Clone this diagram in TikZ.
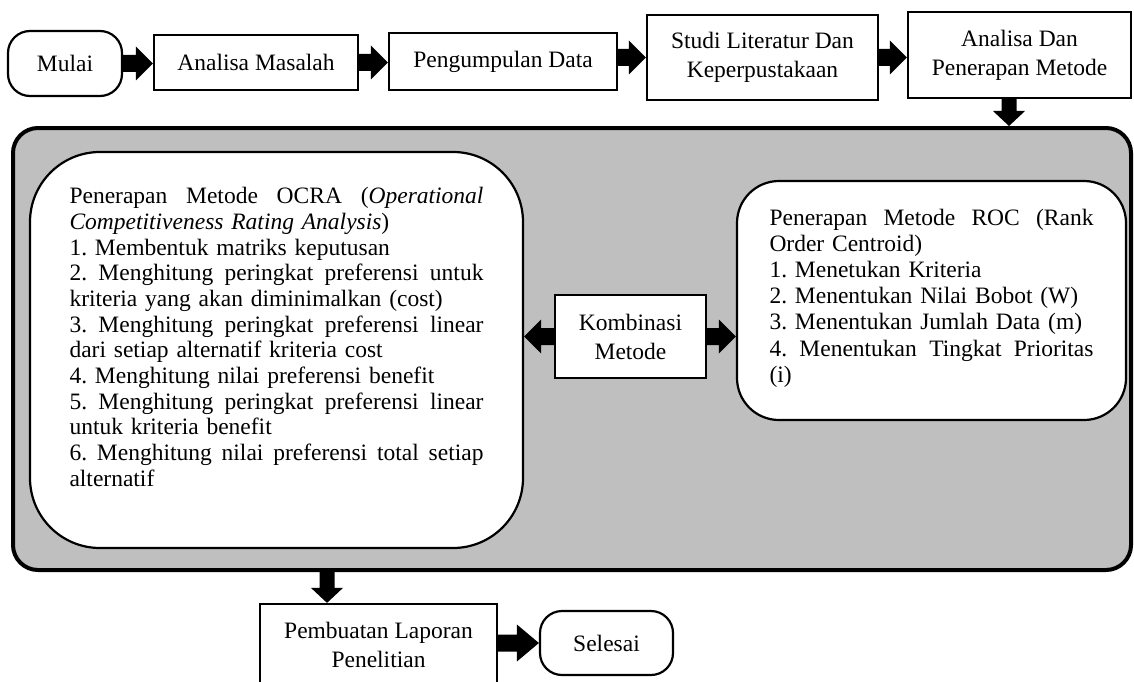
\documentclass[tikz,border=0pt]{standalone}
\usepackage{fontspec}
\setmainfont{Liberation Serif}
\usetikzlibrary{calc}
\definecolor{panelgray}{RGB}{191,191,191}
\frenchspacing
\tikzset{
  base/.style={draw, line width=2.2pt, fill=white, inner sep=0pt,
    font=\fontsize{23.5}{29}\selectfont\frenchspacing, align=center},
  procbox/.style={base, rectangle},
  termbox/.style={base, rounded corners=22pt},
  panelbox/.style={base, rounded corners=#1},
  paneltext/.style={inner sep=0pt, align=left, font=\fontsize{23.5}{#1}\selectfont\frenchspacing},
  container/.style={draw, line width=4pt, fill=panelgray, rounded corners=25pt, inner sep=0pt}
}
% justified line helpers (words separated by \hfill)
\newcommand{\jlo}[1]{\leavevmode\hbox to 414pt{#1}}
\newcommand{\jlr}[1]{\leavevmode\hbox to 324pt{#1}}
% block arrows: #1 tail point, #2 tip point
\newcommand{\blockright}[2]{%
  \path #1 coordinate (tA) #2 coordinate (hA);
  \fill ($(tA)+(0,-8.5)$) -- ($(hA)+(-17,-8.5)$) -- ($(hA)+(-17,-17)$) -- (hA)
     -- ($(hA)+(-17,17)$) -- ($(hA)+(-17,8.5)$) -- ($(tA)+(0,8.5)$) -- cycle;}
\newcommand{\blockleft}[2]{%
  \path #1 coordinate (tA) #2 coordinate (hA);
  \fill ($(tA)+(0,-8.5)$) -- ($(hA)+(17,-8.5)$) -- ($(hA)+(17,-17)$) -- (hA)
     -- ($(hA)+(17,17)$) -- ($(hA)+(17,8.5)$) -- ($(tA)+(0,8.5)$) -- cycle;}
\newcommand{\blockdown}[2]{%
  \path #1 coordinate (tA) #2 coordinate (hA);
  \fill ($(tA)+(-7.5,0)$) -- ($(hA)+(-7.5,-15)$) -- ($(hA)+(-16,-15)$) -- (hA)
     -- ($(hA)+(16,-15)$) -- ($(hA)+(7.5,-15)$) -- ($(tA)+(7.5,0)$) -- cycle;}
\newcommand{\bigblockright}[2]{%
  \path #1 coordinate (tA) #2 coordinate (hA);
  \fill ($(tA)+(0,-8.5)$) -- ($(hA)+(-22,-8.5)$) -- ($(hA)+(-22,-18.5)$) -- (hA)
     -- ($(hA)+(-22,18.5)$) -- ($(hA)+(-22,8.5)$) -- ($(tA)+(0,8.5)$) -- cycle;}
\begin{document}
\begin{tikzpicture}[x=1pt,y=-1pt]
\useasboundingbox (0,0) rectangle (1134,682);

% container panel
\node[container, minimum width=1118pt, minimum height=442pt] (cont) at (572,349) {};

% top row
\node[termbox, minimum width=114pt, minimum height=65pt] (mulai) at (65,63.5) {Mulai};
\node[procbox, minimum width=204pt, minimum height=55pt] (am) at (256,62.5) {Analisa Masalah};
\node[procbox, minimum width=228pt, minimum height=57pt] (pd) at (503,61.5) {Pengumpulan Data};
\node[procbox, minimum width=231pt, minimum height=85pt] (sl) at (762.5,57.5) {Studi Literatur Dan\\Keperpustakaan};
\node[procbox, minimum width=223pt, minimum height=86pt] (ad) at (1019.5,55) {Analisa Dan\\Penerapan Metode};

% inner panels
\node[panelbox=70pt, minimum width=493pt, minimum height=396pt] (ocra) at (276.5,350) {};
\node[paneltext=25.7, text width=414pt] (ocratext) at ($(ocra.center)+(0,-13)$) {%
\jlo{Penerapan\hfill Metode\hfill OCRA\hfill (\textit{Operational}}\\
\textit{Competitiveness Rating Analysis})\\
1. Membentuk matriks keputusan\\
\jlo{2.\hfill Menghitung\hfill peringkat\hfill preferensi\hfill untuk}\\
kriteria yang akan diminimalkan (cost)\\
\jlo{3.\hfill Menghitung\hfill peringkat\hfill preferensi\hfill linear}\\
dari setiap alternatif kriteria cost\\
4. Menghitung nilai preferensi benefit\\
\jlo{5.\hfill Menghitung\hfill peringkat\hfill preferensi\hfill linear}\\
untuk kriteria benefit\\
\jlo{6.\hfill Menghitung\hfill nilai\hfill preferensi\hfill total\hfill setiap}\\
alternatif};

\node[panelbox=42pt, minimum width=389pt, minimum height=239pt] (roc) at (931.5,300.5) {};
\node[paneltext=26.2, text width=324pt] (roctext) at ($(roc.center)+(0,-2.5)$) {%
\jlr{Penerapan\hfill Metode\hfill ROC\hfill (Rank}\\
Order Centroid)\\
1. Menetukan Kriteria\\
2. Menentukan Nilai Bobot (W)\\
3. Menentukan Jumlah Data (m)\\
\jlr{4.\hfill Menentukan\hfill Tingkat\hfill Prioritas}\\
(i)};

\node[procbox, minimum width=151pt, minimum height=83pt] (komb) at (630.5,336.5) {Kombinasi\\Metode};

% bottom row
\node[procbox, minimum width=237pt, minimum height=82pt] (lap) at (378.5,645) {Pembuatan Laporan\\Penelitian};
\node[termbox, minimum width=133pt, minimum height=64pt] (sel) at (606.5,643) {Selesai};

% connectors
\blockright{(mulai.east)}{(mulai.east -| am.west)}
\blockright{(am.east)}{(am.east -| pd.west)}
\blockright{(pd.east |- sl.west)}{(sl.west)}
\blockright{(sl.east)}{(sl.east -| ad.west)}
\coordinate (d1) at ($(ad.south)+(-10.5,0)$);
\blockdown{(d1)}{(d1 |- cont.north)}
\blockleft{(komb.west)}{(komb.west -| ocra.east)}
\blockright{(komb.east)}{(komb.east -| roc.west)}
\coordinate (d2) at ($(lap.north)+(-51.5,0)$);
\blockdown{(d2 |- cont.south)}{(d2)}
\bigblockright{(sel.west -| lap.east)}{(sel.west)}
\end{tikzpicture}
\end{document}
